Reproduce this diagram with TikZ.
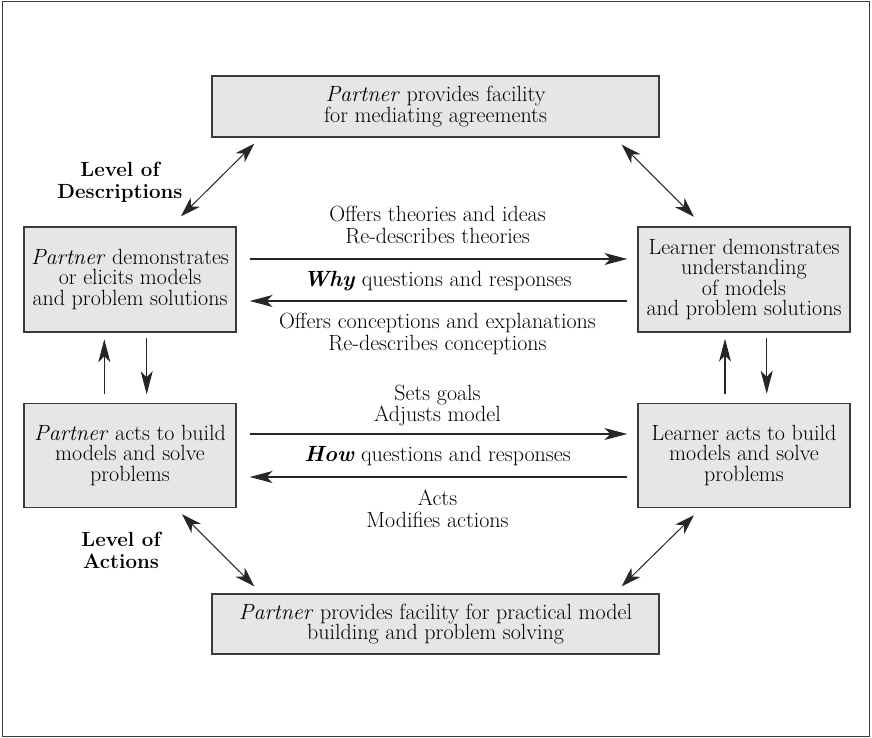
\documentclass[tikz,border=0pt]{standalone}
\usepackage{fontspec}
\usetikzlibrary{arrows.meta,calc}
\definecolor{boxfill}{HTML}{E6E6E7}
\definecolor{boxline}{HTML}{3A3A3A}
\begin{document}
\begin{tikzpicture}[x=1pt,y=-1pt,
  every node/.style={font=\fontsize{22}{21.5}\selectfont, align=center, inner sep=0pt},
  box/.style={draw=boxline, line width=1.4pt, fill=boxfill,
              font=\fontsize{22}{20.5}\selectfont},
  arr/.style={-{Stealth[length=23pt,width=12pt,inset=6pt]}, line width=1.1pt, black!85},
  darr/.style={{Stealth[length=20pt,width=13pt,inset=6pt]}-{Stealth[length=20pt,width=13pt,inset=6pt]}, line width=1pt, black!85},
  lvl/.style={font=\fontsize{20.5}{22}\selectfont\bfseries}]
\useasboundingbox (0,0) rectangle (872,738);
\draw[boxline, line width=1.6pt] (2.5,1.5) rectangle (869.5,736.5);

% boxes
\node[box, minimum width=447pt, minimum height=61pt] (top) at (435.5,106.5)
  {\textit{Partner} provides facility\\for mediating agreements};
\node[box, minimum width=212pt, minimum height=105pt] (lm) at (130,279.5)
  {\textit{Partner} demonstrates\\or elicits models\\and problem solutions};
\node[box, minimum width=212pt, minimum height=105pt] (rm) at (744,279.5)
  {Learner demonstrates\\understanding\\of models\\and problem solutions};
\node[box, minimum width=212pt, minimum height=104pt] (ll) at (130,455.5)
  {\textit{Partner} acts to build\\models and solve\\problems};
\node[box, minimum width=212pt, minimum height=104pt] (lr) at (744,455.5)
  {Learner acts to build\\models and solve\\problems};
\node[box, minimum width=447pt, minimum height=60pt] (bot) at (435.5,624)
  {\textit{Partner} provides facility for practical model\\building and problem solving};

% level labels
\node[lvl] (ld) at (120,182.5) {Level of\\Descriptions};
\node[lvl] (la) at (121,550) {Level of\\Actions};

% horizontal arrows
\draw[arr] ($(lm.east)+(13,-20.5)$) -- ($(rm.west)+(-10,-20.5)$);
\draw[arr] ($(rm.west)+(-10,21.5)$) -- ($(lm.east)+(13,21.5)$);
\draw[arr] ($(ll.east)+(13,-21.5)$) -- ($(lr.west)+(-10,-21.5)$);
\draw[arr] ($(lr.west)+(-10,21.5)$) -- ($(ll.east)+(13,21.5)$);

% horizontal labels
\node (t1) at (437.5,225) {Offers theories and ideas\\Re-describes theories};
\node (t2) at (437.5,281.5) {\textbf{\textit{Why}} questions and responses};
\node (t3) at (437.5,334) {Offers conceptions and explanations\\Re-describes conceptions};
\node (t4) at (437.5,405.5) {Sets goals\\Adjusts model};
\node (t5) at (437.5,456.5) {\textbf{\textit{How}} questions and responses};
\node (t6) at (437.5,509) {Acts\\Modifies actions};

% vertical arrows
\draw[arr] ($(ll.north)+(-25.7,-8.5)$) -- ($(lm.south)+(-25.7,6.5)$);
\draw[arr] ($(lm.south)+(16.7,5)$) -- ($(ll.north)+(16.7,-8.5)$);
\draw[arr] ($(lr.north)+(-19,-8.5)$) -- ($(rm.south)+(-19,6)$);
\draw[arr] ($(rm.south)+(22.7,5.5)$) -- ($(lr.north)+(22.7,-9)$);

% diagonal double arrows
\draw[darr] ($(lm.north)+(51,-10)$) -- ($(top.south west)+(43,6)$);
\draw[darr] ($(top.south east)+(-38,7)$) -- ($(rm.north)+(-50,-9.5)$);
\draw[darr] ($(ll.south)+(52,6)$) -- ($(bot.north west)+(43,-7)$);
\draw[darr] ($(bot.north east)+(-38,-7)$) -- ($(lr.south)+(-50,7)$);
\end{tikzpicture}
\end{document}
